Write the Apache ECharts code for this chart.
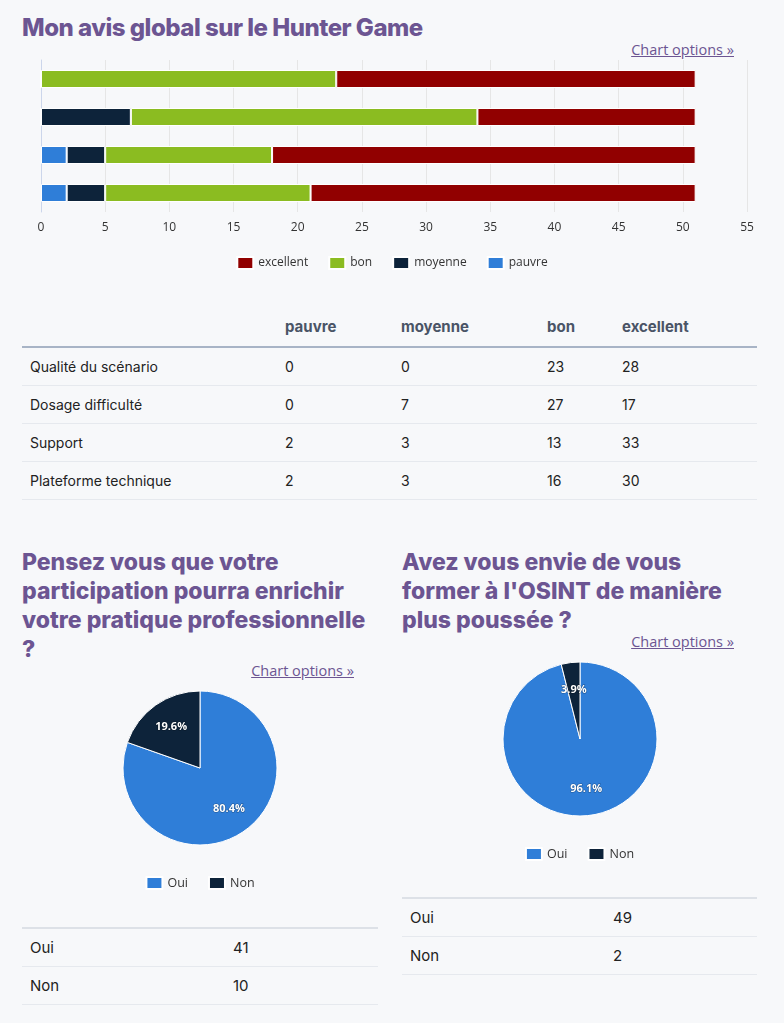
<!DOCTYPE html>
<html>
<head>
<meta charset="utf-8">
<script src="https://cdn.jsdelivr.net/npm/echarts@6/dist/echarts.min.js"></script>
<style>
	body {
		margin: 0;
		background: #f7f8fa;
		width: 784px;
		height: 1023px;
		position: relative;
		overflow: hidden;
		font-family: Inter, "Open Sans", sans-serif;
	}

	/*titres*/
	.titre {
		position: absolute;
		margin: 0;
		font-family: Inter, sans-serif;
		font-weight: 800;
		color: #6c5592;
		white-space: nowrap;
	}

	.opts {
		position: absolute;
		font-family: "Open Sans", sans-serif;
		font-size: 14.5px;
		line-height: 20px;
		color: #6c5592;
		text-decoration: underline;
		white-space: nowrap;
	}

	.chart {
		position: absolute;
	}

	/*tableaux*/
	table {
		position: absolute;
		border-collapse: separate;
		border-spacing: 0;
		table-layout: fixed;
		font-family: Inter, sans-serif;
		font-size: 14px;
		color: #222;
	}

	table td, table th {
		box-sizing: border-box;
		height: 38px;
		padding: 0 8px;
		text-align: left;
		border-bottom: 1px solid #e6e9ee;
	}

	table th {
		height: 41px;
		font-weight: 700;
		font-size: 15px;
		color: #4a5466;
		border-bottom: 2px solid #a8b4c6;
	}

	table.petit {
		border-top: 2px solid #dde1e7;
		font-size: 15px;
	}
</style>
</head>
<body>
	<h2 class="titre" style="left:22px;top:12px;font-size:24px;line-height:32px;letter-spacing:-0.5px;">Mon avis global sur le Hunter Game</h2>
	<span class="opts" style="right:50px;top:40px;">Chart options »</span>
	<div class="chart" id="barres" style="left:0;top:40px;width:784px;height:240px;"></div>
	<table id="tab1" style="left:22px;top:307px;width:735px;"></table>

	<h2 class="titre" style="left:22px;top:548px;font-size:23px;line-height:29px;letter-spacing:0;">Pensez vous que votre<br>participation pourra enrichir<br>votre pratique professionnelle<br>?</h2>
	<span class="opts" style="right:430px;top:661px;">Chart options »</span>
	<div class="chart" id="pie1" style="left:22px;top:680px;width:356px;height:220px;"></div>
	<table class="petit" id="tab2" style="left:22px;top:927px;width:356px;"></table>

	<h2 class="titre" style="left:402px;top:548px;font-size:23px;line-height:29px;letter-spacing:0;">Avez vous envie de vous<br>former à l'OSINT de manière<br>plus poussée ?</h2>
	<span class="opts" style="right:50px;top:632px;">Chart options »</span>
	<div class="chart" id="pie2" style="left:402px;top:651px;width:355px;height:220px;"></div>
	<table class="petit" id="tab3" style="left:402px;top:897px;width:355px;"></table>

	<script>
		// critères évalués
		var criteres = ['Qualité du scénario', 'Dosage difficulté', 'Support', 'Plateforme technique'];
		// niveaux de réponse
		var niveaux = ['pauvre', 'moyenne', 'bon', 'excellent'];
		var pauvre = [0, 0, 2, 2];
		var moyenne = [0, 7, 3, 3];
		var bon = [23, 27, 13, 16];
		var excellent = [28, 17, 33, 30];
		var couleurs = ['#2f7ed8', '#0d233a', '#8bbc21', '#910000'];
		// graduations axe x : min, max, pas
		var ticksX = [0, 55, 5];

		// questions oui / non
		var reponses = ['Oui', 'Non'];
		var enrichir = [41, 10];
		var former = [49, 2];
		var couleursPie = ['#2f7ed8', '#0d233a'];

		var valeurs = [pauvre, moyenne, bon, excellent];

		// tableau principal
		var html = '<colgroup><col style="width:255px"><col style="width:116px"><col style="width:146px"><col style="width:75px"><col style="width:143px"></colgroup>';
		html += '<tr><th></th>';
		niveaux.forEach(function (n) { html += '<th>' + n + '</th>'; });
		html += '</tr>';
		criteres.forEach(function (c, i) {
			html += '<tr><td>' + c + '</td>';
			valeurs.forEach(function (v) { html += '<td>' + v[i] + '</td>'; });
			html += '</tr>';
		});
		document.getElementById('tab1').innerHTML = html;

		function petitTableau(id, vals) {
			var h = '<colgroup><col style="width:203px"><col></colgroup>';
			reponses.forEach(function (r, i) {
				h += '<tr><td>' + r + '</td><td>' + vals[i] + '</td></tr>';
			});
			document.getElementById(id).innerHTML = h;
		}
		petitTableau('tab2', enrichir);
		petitTableau('tab3', former);

		// barres empilées
		var barres = echarts.init(document.getElementById('barres'));
		var series = [];
		niveaux.forEach(function (n, i) {
			series.push({
				name: n,
				type: 'bar',
				stack: 'total',
				barWidth: 18,
				data: valeurs[i],
				itemStyle: { color: couleurs[i], borderColor: '#fff', borderWidth: 1 },
				emphasis: { disabled: true }
			});
		});
		barres.setOption({
			animation: false,
			textStyle: { fontFamily: 'Open Sans' },
			grid: { left: 41, right: 37, top: 20, height: 152 },
			legend: {
				data: niveaux.slice().reverse(),
				top: 211,
				left: 'center',
				itemWidth: 16,
				itemHeight: 12,
				itemGap: 20,
				icon: 'rect',
				textStyle: { fontSize: 12, color: '#333' }
			},
			xAxis: {
				type: 'value',
				min: ticksX[0],
				max: ticksX[1],
				interval: ticksX[2],
				axisLine: { show: false },
				axisTick: { show: false },
				axisLabel: { fontSize: 12, color: '#333', margin: 10 },
				splitLine: { lineStyle: { color: '#e6e6e6' } }
			},
			yAxis: {
				type: 'category',
				data: criteres,
				inverse: true,
				axisLabel: { show: false },
				axisLine: { lineStyle: { color: '#ccd6eb' } },
				axisTick: { length: 5, lineStyle: { color: '#ccd6eb' } }
			},
			series: series
		});

		// camemberts
		function camembert(id, vals) {
			var chart = echarts.init(document.getElementById(id));
			var data = reponses.map(function (r, i) {
				return { name: r, value: vals[i], itemStyle: { color: couleursPie[i] } };
			});
			chart.setOption({
				animation: false,
				textStyle: { fontFamily: 'Open Sans' },
				legend: {
					data: reponses,
					top: 191,
					left: 'center',
					itemWidth: 16,
					itemHeight: 12,
					itemGap: 20,
					icon: 'rect',
					textStyle: { fontSize: 12.5, color: '#333' }
				},
				series: [
					{
						type: 'pie',
						center: [178, 88],
						radius: [0, 77],
						startAngle: 90,
						data: data,
						label: { show: false },
						labelLine: { show: false },
						itemStyle: { borderColor: '#fff', borderWidth: 1 },
						emphasis: { disabled: true }
					},
					{
						// étiquettes placées à 47px du centre
						type: 'pie',
						center: [178, 88],
						radius: [0, 94],
						startAngle: 90,
						silent: true,
						percentPrecision: 1,
						data: reponses.map(function (r, i) {
							return { name: r, value: vals[i], itemStyle: { color: 'rgba(0,0,0,0)' } };
						}),
						itemStyle: { borderWidth: 0 },
						label: {
							show: true,
							position: 'inside',
							formatter: '{d}%',
							color: '#fff',
							fontSize: 11,
							fontWeight: 'bold',
							textBorderColor: 'rgba(0,0,0,0.35)',
							textBorderWidth: 1
						},
						labelLine: { show: false },
						emphasis: { disabled: true }
					}
				]
			});
		}
		camembert('pie1', enrichir);
		camembert('pie2', former);
	</script>
</body>
</html>
